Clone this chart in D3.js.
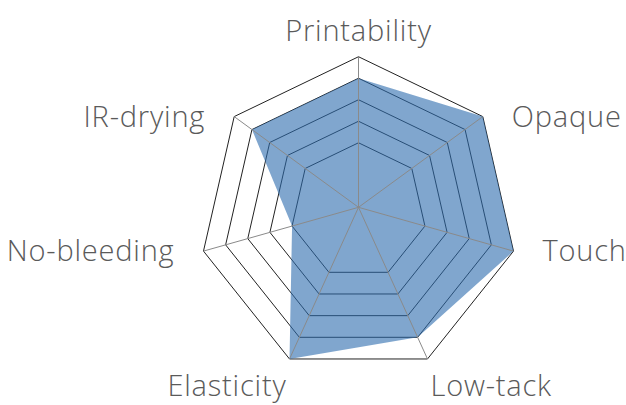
<!DOCTYPE html>
<html lang="en">
  <head>
    <meta charset="utf-8">
    <title>Radar chart</title>
    <script src="https://d3js.org/d3.v7.min.js"></script>
    <style>
      body { margin: 0; background: #fff; }
      .axis-label { font-family: "Open Sans", "Lato", sans-serif; font-weight: 300; font-size: 29px; letter-spacing: 0.8px; fill: #5a5a5a; }
    </style>
  </head>
  <body>
    <svg id="radar" width="626" height="405"></svg>

    <script type="text/javascript">
      // chart data
      var axes = ["Printability", "Opaque", "Touch", "Low-tack", "Elasticity", "No-bleeding", "IR-drying"];
      var values = [6, 7, 7, 6, 7, 3, 6];
      var ringLevels = [3, 4, 5, 6, 7];
      var maxValue = 7;

      var svg = d3.select("#radar");
      var cx = 358.5, cy = 207.3, outerRadius = 159;
      // the rings in the original sit a little lower than the spoke origin
      var drop = 0.053;

      var r = d3.scaleLinear().domain([0, maxValue]).range([0, outerRadius]);
      var angle = d3.scaleLinear().domain([0, axes.length]).range([0, 2 * Math.PI]);

      function project(i, value) {
        var a = angle(i), rad = r(value);
        return [cx + rad * Math.sin(a), cy + rad * (drop - Math.cos(a))];
      }

      var polyLine = d3.line().curve(d3.curveLinearClosed);

      // grid rings
      svg.append("g").selectAll("path").data(ringLevels).enter().append("path")
        .attr("d", function(level) { return polyLine(axes.map(function(d, i) { return project(i, level); })); })
        .attr("fill", "none")
        .attr("stroke", "#222")
        .attr("stroke-width", 1);

      // data area
      svg.append("path")
        .datum(values)
        .attr("d", function(vals) { return polyLine(vals.map(function(v, i) { return project(i, v); })); })
        .attr("fill", "rgb(43,107,173)")
        .attr("fill-opacity", 0.6)
        .attr("stroke", "none");

      // spokes
      svg.append("g").selectAll("line").data(axes).enter().append("line")
        .attr("x1", function(d, i) { return project(i, 0)[0]; })
        .attr("y1", function(d, i) { return project(i, 0)[1]; })
        .attr("x2", function(d, i) { return project(i, maxValue)[0]; })
        .attr("y2", function(d, i) { return project(i, maxValue)[1]; })
        .attr("stroke", "#8a8a8a")
        .attr("stroke-width", 1);

      // labels around the outside
      svg.append("g").selectAll("text").data(axes).enter().append("text")
        .attr("class", "axis-label")
        .each(function(d, i) {
          var p = project(i, maxValue);
          var s = Math.sin(angle(i)), c = Math.cos(angle(i));
          var anchor = "middle", x = p[0], y = p[1];
          if (s > 0.01) anchor = "start";
          if (s < -0.01) anchor = "end";
          var gap = Math.abs(s) > 0.6 ? 29 : 3;
          x += Math.sign(s) * gap;
          if (c > 0.9) y -= 16;
          else if (c < -0.5) y += 37;
          else y += 10;
          d3.select(this)
            .attr("x", x)
            .attr("y", y)
            .attr("text-anchor", anchor)
            .text(d);
        });
    </script>
  </body>
</html>
